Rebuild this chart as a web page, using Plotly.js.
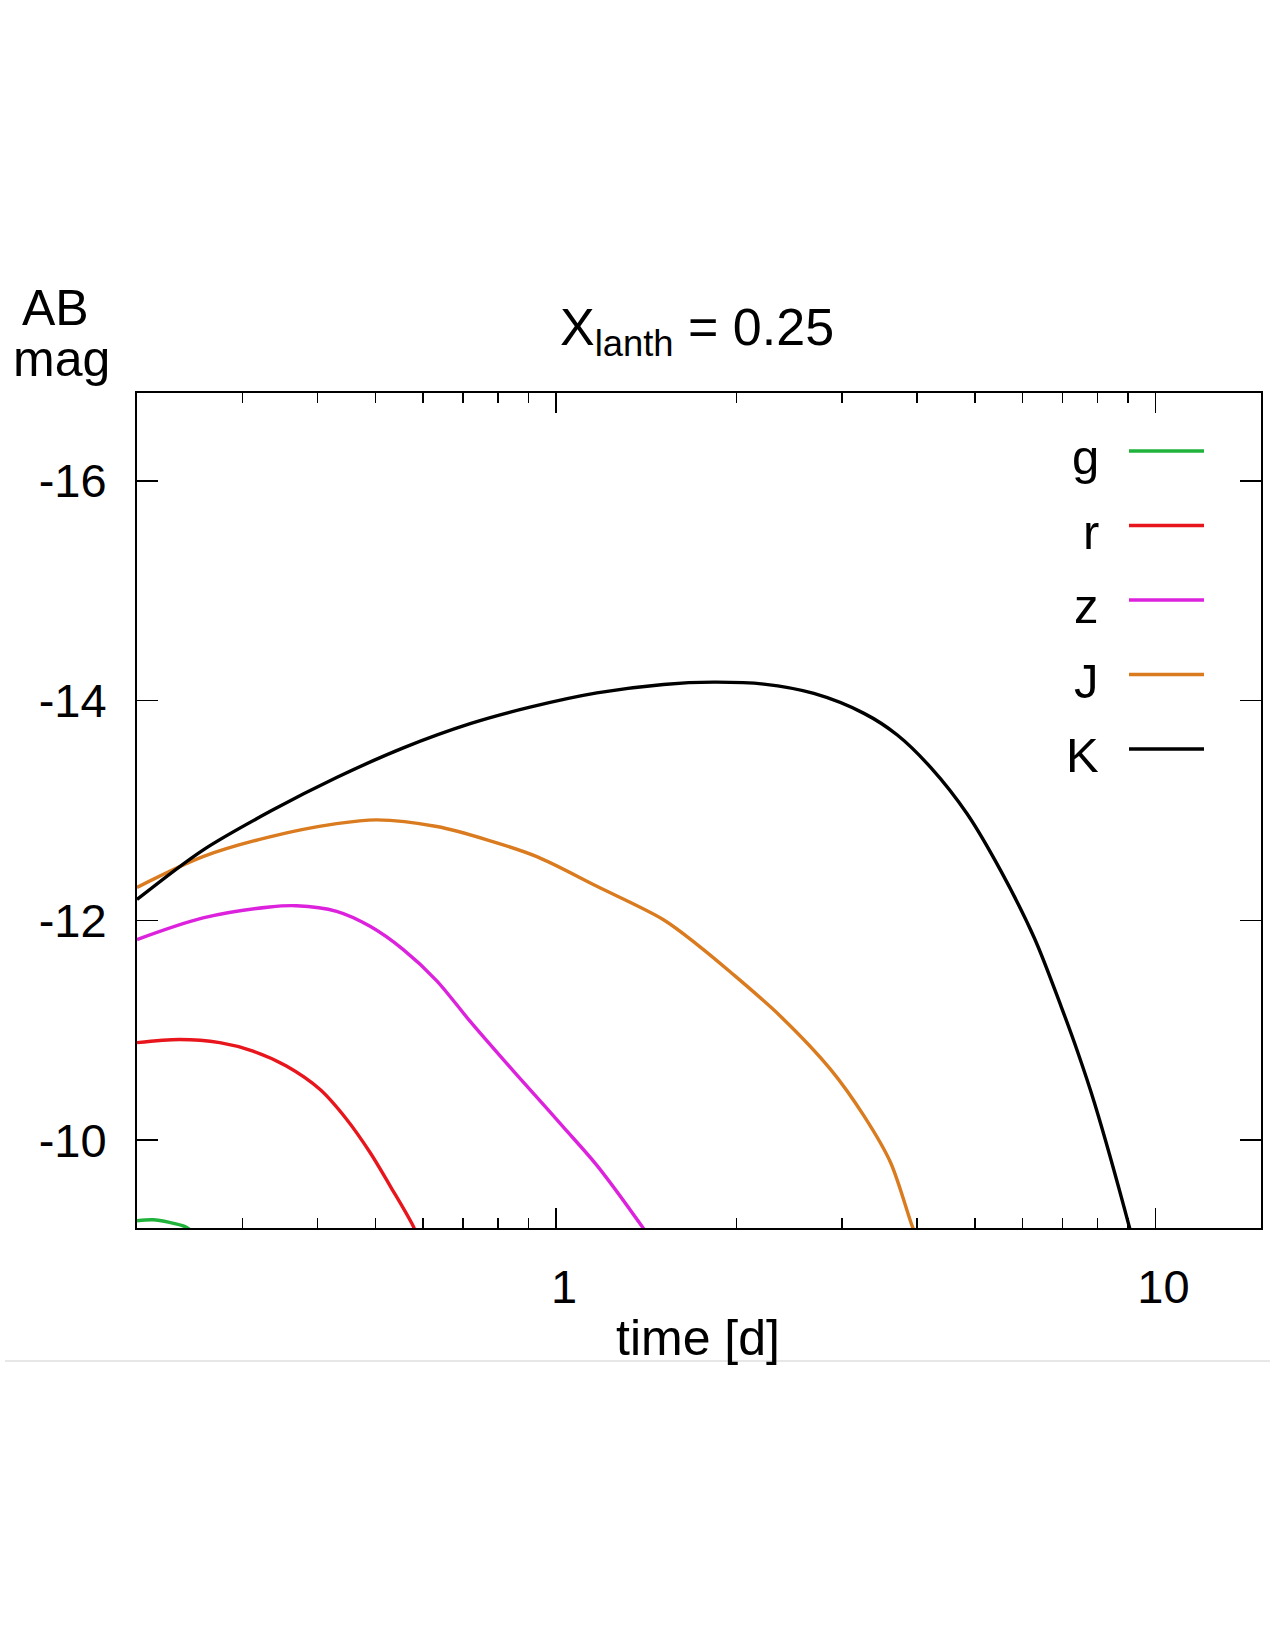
<!DOCTYPE html>
<html>
<head>
<meta charset="utf-8">
<script src="https://cdn.plot.ly/plotly-3.0.1.min.js"></script>
<style>html,body{margin:0;padding:0;background:#fff;}#chart{width:1275px;height:1650px;}</style>
</head>
<body>
<div id="chart"></div>
<script>
// ---- data (time in days, AB magnitude) ----
const gTime = [0.2, 0.2127, 0.2266, 0.240, 0.25];
const gMag  = [-9.266, -9.275, -9.251, -9.215, -9.15];

const rTime = [0.2, 0.2355, 0.2748, 0.3123, 0.355, 0.4037, 0.4473, 0.4896, 0.5287, 0.578, 0.60];
const rMag  = [-10.887, -10.916, -10.887, -10.81, -10.674, -10.462, -10.19, -9.887, -9.584, -9.215, -9.0];

const zTime = [0.2, 0.2577, 0.333, 0.369, 0.4305, 0.4896, 0.5563, 0.6326, 0.7192, 0.8176, 0.905, 1.028, 1.17, 1.391, 1.45];
const zMag  = [-11.825, -12.022, -12.122, -12.133, -12.082, -11.946, -11.734, -11.45, -11.08, -10.73, -10.46, -10.12, -9.77, -9.215, -9.07];

const jTime = [0.2, 0.2577, 0.333, 0.4305, 0.5023, 0.6326, 0.767, 0.929, 1.17, 1.511, 1.72, 1.954, 2.368, 2.871, 3.264, 3.615, 3.93, 4.0];
const jMag  = [-12.30, -12.58, -12.76, -12.88, -12.915, -12.854, -12.733, -12.58, -12.31, -12.006, -11.78, -11.53, -11.128, -10.644, -10.22, -9.796, -9.215, -9.12];

const kTime = [0.2, 0.2577, 0.333, 0.4305, 0.5563, 0.7192, 0.905, 1.170, 1.511, 1.832, 2.221, 2.692, 3.264, 3.71, 4.22, 4.85, 5.522, 6.28, 6.957, 7.42, 7.91, 9.05, 9.3];
const kMag  = [-12.19, -12.64, -12.99, -13.30, -13.57, -13.79, -13.94, -14.07, -14.147, -14.168, -14.150, -14.065, -13.884, -13.687, -13.39, -12.97, -12.45, -11.84, -11.22, -10.80, -10.34, -9.206, -8.95];

const seriesNames  = ['g', 'r', 'z', 'J', 'K'];
const seriesColors = ['#1fb33b', '#e8161c', '#dc22dc', '#d97b1e', '#000000'];
const seriesTimes  = [gTime, rTime, zTime, jTime, kTime];
const seriesMags   = [gMag, rMag, zMag, jMag, kMag];

const yTickVals = [-16, -14, -12, -10];
const xTickVals = [1, 10];
const xTickText = ['1', '10'];
const xMinorVals = [0.3, 0.4, 0.5, 0.6, 0.7, 0.8, 0.9, 2, 3, 4, 5, 6, 7, 8, 9];

// ---- layout geometry (pixels) ----
const W = 1275, H = 1650;
const L = 137, R = 1261, T = 393, B = 1228;
const xp = X => (X - L) / (R - L);
const yp = Y => (B - Y) / (B - T);
const FONT = 'Liberation Sans, Arial, Helvetica, sans-serif';

const traces = seriesNames.map((n, i) => ({
  x: seriesTimes[i], y: seriesMags[i], name: n, type: 'scatter', mode: 'lines',
  line: {color: seriesColors[i], width: 3.4, shape: 'spline', smoothing: 0.9},
  hoverinfo: 'skip', showlegend: false
}));

const shapes = [];
const annotations = [];
// legend (text left of sample line, as in original)
const legendY0 = 451, legendStep = 74.5;
seriesNames.forEach((n, i) => {
  const y = legendY0 + i * legendStep;
  shapes.push({type: 'line', xref: 'paper', yref: 'paper', x0: xp(1129), x1: xp(1204), y0: yp(y), y1: yp(y),
               line: {color: seriesColors[i], width: 3.4}});
  annotations.push({xref: 'paper', yref: 'paper', x: xp(1101), y: yp(y + 6), xanchor: 'right', yanchor: 'middle',
                    text: n, showarrow: false, font: {family: FONT, size: 49, color: '#000'}});
});
// thin grey separator line below the figure
shapes.push({type: 'line', xref: 'paper', yref: 'paper', x0: xp(5), x1: xp(1270), y0: yp(1361), y1: yp(1361),
             line: {color: '#d0d0d0', width: 1.2}});
// y-axis label (horizontal, top-left)
annotations.push({xref: 'paper', yref: 'paper', x: xp(55), y: yp(308), xanchor: 'center', yanchor: 'middle',
                  text: 'AB', showarrow: false, font: {family: FONT, size: 50, color: '#000'}});
annotations.push({xref: 'paper', yref: 'paper', x: xp(61), y: yp(359), xanchor: 'center', yanchor: 'middle',
                  text: 'mag', showarrow: false, font: {family: FONT, size: 50, color: '#000'}});
// x-axis label
annotations.push({xref: 'paper', yref: 'paper', x: xp(698), y: yp(1338), xanchor: 'center', yanchor: 'middle',
                  text: 'time [d]', showarrow: false, font: {family: FONT, size: 50, color: '#000'}});
// title
annotations.push({xref: 'paper', yref: 'paper', x: xp(697), y: yp(331), xanchor: 'center', yanchor: 'middle',
                  text: 'X<sub>lanth</sub> = 0.25', showarrow: false, font: {family: FONT, size: 52, color: '#000'}});

const layout = {
  width: W, height: H,
  margin: {l: L, r: W - R, t: T, b: H - B, pad: 0},
  paper_bgcolor: '#fff', plot_bgcolor: '#fff',
  font: {family: FONT, size: 47, color: '#000'},
  showlegend: false,
  xaxis: {
    type: 'log', range: [Math.log10(0.2), Math.log10(15)],
    tickvals: xTickVals, ticktext: xTickText,
    ticks: 'inside', ticklen: 20, tickwidth: 1.5, tickcolor: '#000',
    minor: {tickvals: xMinorVals, ticks: 'inside', ticklen: 10, tickwidth: 1.5, tickcolor: '#000', showgrid: false},
    showline: true, linecolor: '#000', linewidth: 2, mirror: 'ticks',
    showgrid: false, zeroline: false,
    tickfont: {family: FONT, size: 47, color: '#000'},
    ticklabelstandoff: 17, ticklabelshift: 8
  },
  yaxis: {
    range: [-9.2, -16.8],
    tickvals: yTickVals, ticktext: yTickVals.map(String),
    ticks: 'inside', ticklen: 21, tickwidth: 1.5, tickcolor: '#000',
    showline: true, linecolor: '#000', linewidth: 2, mirror: 'ticks',
    showgrid: false, zeroline: false,
    tickfont: {family: FONT, size: 47, color: '#000'},
    ticklabelstandoff: 19
  },
  shapes: shapes,
  annotations: annotations
};

Plotly.newPlot('chart', traces, layout, {staticPlot: true, displayModeBar: false});
</script>
</body>
</html>
